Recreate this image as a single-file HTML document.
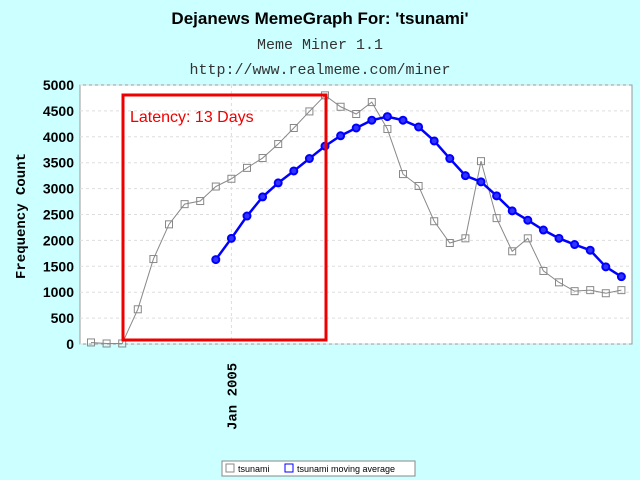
<!DOCTYPE html>
<html><head><meta charset="utf-8"><style>
body{margin:0;background:#ccffff;}
svg{display:block;}
</style></head><body>
<svg id="chart" width="640" height="480" xmlns="http://www.w3.org/2000/svg">
<rect width="640" height="480" fill="#ccffff"/>
<text x="320" y="24" text-anchor="middle" font-family="Liberation Sans, sans-serif" font-weight="bold" font-size="17">Dejanews MemeGraph For: 'tsunami'</text>
<text x="320" y="49" text-anchor="middle" font-family="Liberation Mono, monospace" font-size="15" fill="#333">Meme Miner 1.1</text>
<text x="320" y="74" text-anchor="middle" font-family="Liberation Mono, monospace" font-size="15" fill="#333">http://www.realmeme.com/miner</text>
<rect x="80" y="85" width="552" height="259" fill="#fff" stroke="#999"/>
<g id="grid"></g>
<g id="axes"></g>
<g id="series"></g>
<rect x="123" y="95" width="203" height="245" fill="none" stroke="#ee0000" stroke-width="3"/>
<text x="130" y="122" font-family="Liberation Sans, sans-serif" font-size="16" fill="#ee0000">Latency: 13 Days</text>
<text transform="translate(25,216) rotate(-90)" text-anchor="middle" font-family="Liberation Mono, monospace" font-weight="bold" font-size="14">Frequency Count</text>
<g>
<rect x="222" y="461" width="193" height="15" fill="#fff" stroke="#888"/>
<rect x="226" y="464" width="8" height="8" fill="none" stroke="#888"/>
<text x="238" y="472" font-family="Liberation Sans, sans-serif" font-size="9">tsunami</text>
<rect x="285" y="464" width="8" height="8" fill="none" stroke="#0000ff"/>
<text x="297" y="472" font-family="Liberation Sans, sans-serif" font-size="9">tsunami moving average</text>
</g>
</svg>
<script>
const rawValues=[30,10,10,670,1640,2310,2700,2760,3040,3190,3400,3590,3860,4170,4490,4800,4580,4440,4670,4150,3280,3050,2370,1950,2040,3530,2430,1790,2040,1410,1190,1020,1040,980,1040];
const avgStart=8;
const avgValues=[1630,2040,2470,2840,3110,3340,3580,3820,4020,4170,4320,4390,4320,4190,3920,3580,3250,3130,2860,2570,2390,2200,2040,1920,1810,1490,1300];
const yTicks=[0,500,1000,1500,2000,2500,3000,3500,4000,4500,5000];
const xLabel="Jan 2005";
const xLabelIndex=9;
const NS="http://www.w3.org/2000/svg";
const X=i=>91+i*15.6;
const Y=v=>344-v/5000*259;
function mk(t,a,p){const e=document.createElementNS(NS,t);for(const k in a)e.setAttribute(k,a[k]);p.appendChild(e);return e;}
const grid=document.getElementById('grid'),axes=document.getElementById('axes'),series=document.getElementById('series');
yTicks.forEach(v=>{
 const l=mk('line',{x1:80,x2:632,y1:Y(v),y2:Y(v),stroke:'#ddd','stroke-dasharray':'3,3'},grid);
 
 
 const t=mk('text',{x:74,y:Y(v)+5,'text-anchor':'end','font-family':'Liberation Sans, sans-serif','font-weight':'bold','font-size':'14'},axes);
 t.textContent=v;
 
 
});
const gv=mk('line',{x1:X(xLabelIndex),x2:X(xLabelIndex),y1:85,y2:344,stroke:'#ddd','stroke-dasharray':'3,3'},grid);


const xt=mk('text',{transform:`translate(${X(xLabelIndex)+5},430) rotate(-90)`,'font-family':'Liberation Mono, monospace','font-weight':'bold','font-size':'14'},axes);
xt.textContent=xLabel;


const p1=mk('polyline',{points:rawValues.map((v,i)=>X(i)+','+Y(v)).join(' '),fill:'none',stroke:'#888','stroke-width':1},series);


rawValues.forEach((v,i)=>{
 const r=mk('rect',{x:X(i)-3.5,y:Y(v)-3.5,width:7,height:7,fill:'none',stroke:'#888'},series);
 
 
});
const p2=mk('polyline',{points:avgValues.map((v,i)=>X(i+avgStart)+','+Y(v)).join(' '),fill:'none',stroke:'#0000ff','stroke-width':2.5},series);


avgValues.forEach((v,i)=>{
 const c=mk('circle',{cx:X(i+avgStart),cy:Y(v),r:3.5,fill:'#3333ff',stroke:'#0000ff','stroke-width':2},series);
 
 
});
</script>
</body></html>
